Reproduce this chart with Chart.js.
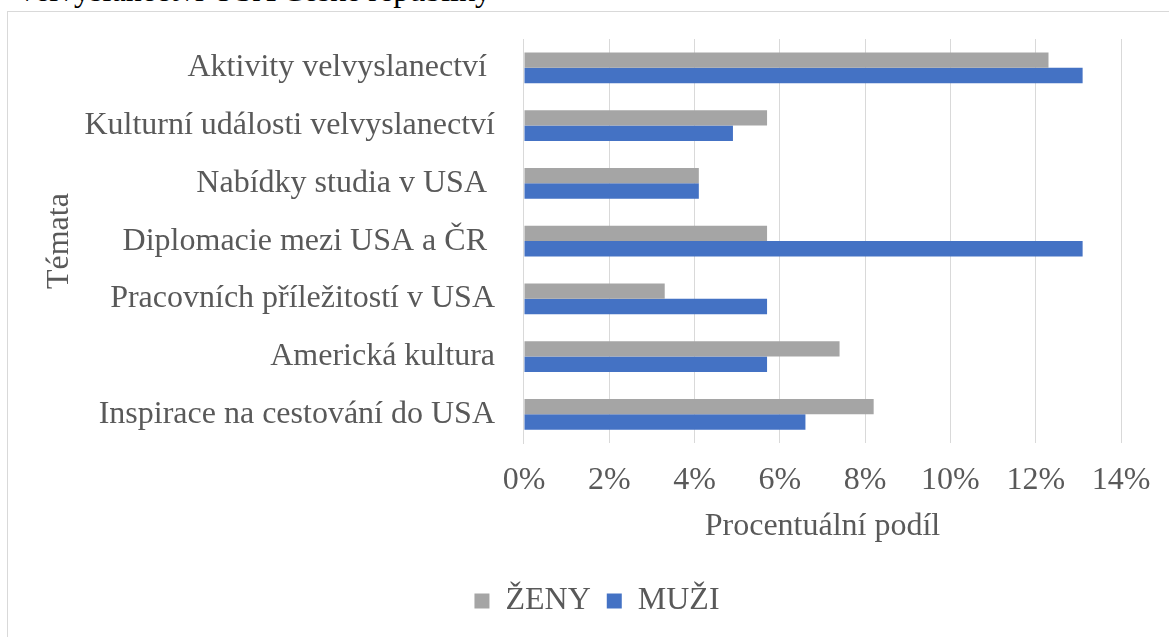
<!DOCTYPE html>
<html>
<head>
<meta charset="utf-8">
<script src="https://cdn.jsdelivr.net/npm/chart.js@4"></script>
<style>
  html, body { margin: 0; padding: 0; background: #ffffff; overflow: hidden; }
  body { width: 1169px; height: 637px; position: relative; }
  #frame { position: absolute; left: 7px; top: 11px; width: 1180px; height: 640px; border: 1px solid #d9d9d9; box-sizing: border-box; }
  #cap { position: absolute; left: 19px; top: -26px; font: 32px/32px "Liberation Serif", "Times New Roman", serif; color: #000; white-space: nowrap; }
  #c { position: absolute; left: 0; top: 0; }
</style>
</head>
<body>
<div id="cap">velvyslanectví USA České republiky</div>
<div id="frame"></div>
<canvas id="c" width="1169" height="637"></canvas>
<script>
const categories = [
  "Aktivity velvyslanectví ",
  "Kulturní události velvyslanectví",
  "Nabídky studia v USA ",
  "Diplomacie mezi USA a ČR ",
  "Pracovních příležitostí v USA",
  "Americká kultura",
  "Inspirace na cestování do USA"
];
const seriesNames = ["ŽENY", "MUŽI"];
const zenyValues = [12.3, 5.7, 4.1, 5.7, 3.3, 7.4, 8.2];
const muziValues = [13.1, 4.9, 4.1, 13.1, 5.7, 5.7, 6.6];
const xTickMin = 0, xTickMax = 14, xTickStep = 2;
const axisTitleX = 'Procentuální podíl';
const axisTitleY = 'Témata';

const serif = '"Liberation Serif", "Times New Roman", serif';
const txt = '#595959';
const FS = 32;

new Chart(document.getElementById('c'), {
  type: 'bar',
  data: {
    labels: categories,
    datasets: [
      { label: seriesNames[0], data: zenyValues, backgroundColor: '#a5a5a5', borderWidth: 0 },
      { label: seriesNames[1], data: muziValues, backgroundColor: '#4472c4', borderWidth: 0 }
    ]
  },
  options: {
    indexAxis: 'y',
    responsive: false,
    animation: false,
    devicePixelRatio: 1,
    layout: { padding: { left: 10, right: 48, top: 39, bottom: 10 } },
    datasets: { bar: { categoryPercentage: 0.53, barPercentage: 1.0 } },
    plugins: {
      tooltip: { enabled: false },
      legend: {
        position: 'bottom',
        labels: {
          font: { family: serif, size: FS },
          color: txt,
          boxWidth: 15,
          boxHeight: 15,
          padding: 16,
          generateLabels(chart) {
            const items = chart.data.datasets.map((d, i) => ({
              text: d.label, fillStyle: d.backgroundColor, strokeStyle: d.backgroundColor,
              lineWidth: 0, datasetIndex: i, fontColor: txt
            }));
            // invisible spacer item to shift the visible legend to the reference position
            items.unshift({ text: '\u00a0\u00a0', fillStyle: 'rgba(0,0,0,0)', strokeStyle: 'rgba(0,0,0,0)', lineWidth: 0, fontColor: 'rgba(0,0,0,0)' });
            return items;
          }
        }
      }
    },
    scales: {
      x: {
        min: xTickMin, max: xTickMax,
        ticks: { stepSize: xTickStep, callback: v => v + '%', font: { family: serif, size: FS }, color: txt, padding: 18 },
        grid: { color: '#d9d9d9', lineWidth: 1, drawTicks: false },
        border: { display: false },
        title: { display: true, text: axisTitleX, font: { family: serif, size: FS }, color: txt, padding: { top: -10, bottom: 23 } }
      },
      y: {
        ticks: { font: { family: serif, size: FS, lineHeight: 0.5 }, color: txt, padding: 29 },
        grid: { display: false, drawTicks: false },
        border: { display: true, color: '#d9d9d9', width: 1 },
        title: { display: true, text: axisTitleY, font: { family: serif, size: FS }, color: txt, padding: { top: 30, bottom: -23 } }
      }
    }
  }
});
</script>
</body>
</html>
